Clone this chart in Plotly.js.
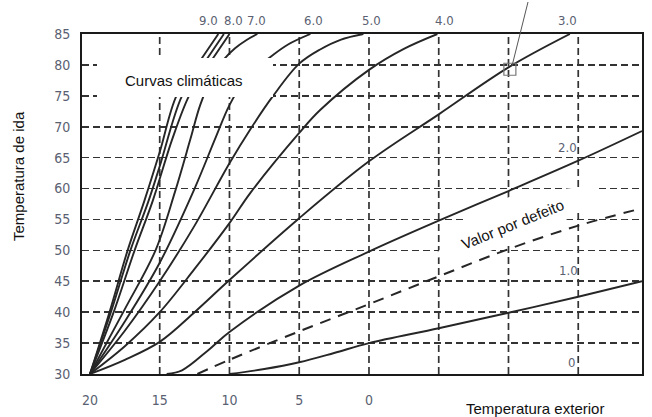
<!DOCTYPE html>
<html>
<head>
<meta charset="utf-8">
<script src="https://cdn.plot.ly/plotly-3.0.1.min.js"></script>
<style>html,body{margin:0;padding:0;background:#fff;}#chart{width:652px;height:417px;}</style>
</head>
<body>
<div id="chart"></div>
<script>
// ---- data ----
const curve90X = [20, 18.6, 17.3, 16.1, 15, 13.8, 12.6, 11.7, 10.8];
const curve90Y = [30, 40, 50, 58, 65.9, 75, 79, 82, 85];
const curve80X = [20, 18.5, 17.1, 15.8, 15, 13.4, 12.2, 11.3, 10.4];
const curve80Y = [30, 40, 50, 58, 63.6, 75, 79, 82, 85];
const curve75X = [20, 18.3, 16.8, 15.5, 14.1, 12.9, 11.8, 10.9, 10.0];
const curve75Y = [30, 40, 50, 58, 68, 75, 79, 82, 85];
const curve70X = [20, 17.5, 15.3, 13.9, 12.8, 12.1, 11.2, 10.4, 9.6, 8.8, 8];
const curve70Y = [30, 40.5, 50, 59.5, 68, 73.5, 78.3, 80.9, 82.7, 84, 85];
const curve60X = [20, 17.5, 15, 12.5, 11, 10, 9, 8, 7, 5.8, 4.2];
const curve60Y = [30, 38.5, 48, 60, 68.2, 73.5, 77.2, 79.6, 81.4, 83.3, 85];
const curve50X = [20, 17.5, 15, 12.5, 10, 8.5, 6.9, 5, 3.5, 2, 0.4];
const curve50Y = [30, 37, 45, 54, 64.1, 69.6, 74.9, 80.2, 82.5, 84.1, 85];
const curve40X = [20, 17.5, 15, 12.5, 10, 8.5, 5, 3.5, 0, -2.5, -4.9];
const curve40Y = [30, 34.5, 40, 47, 54.4, 59.3, 69, 72.7, 79.2, 82.6, 85];
const curve30X = [20, 17.5, 15, 12.5, 10, 5, 0, -5, -10, -14.4];
const curve30Y = [30, 32.3, 35.2, 40, 45.2, 55.2, 64.4, 72, 79.6, 85];
const curve20X = [14.5, 13.4, 11.5, 10, 5, 0, -5, -10, -15, -19.57];
const curve20Y = [30, 30.6, 33.9, 36.8, 44.3, 49.8, 54.8, 59.6, 64.5, 69.3];
const defaultX = [12.3, 10, 5, 0, -5, -10, -15, -19.57];
const defaultY = [30, 32.3, 36.9, 41.3, 45.8, 50.2, 54, 56.8];
const curve10X = [10, 7.5, 5, 2.5, 0, -5, -10, -15, -19.57];
const curve10Y = [30, 30.8, 31.9, 33.4, 35, 37.4, 39.9, 42.5, 45];
const markX = [-10.1];
const markY = [79.3];

const xTickVals = [20, 15, 10, 5, 0];
const xTickText = ['20', '15', '10', '5', '0'];
const xGridVals = [15, 10, 5, 0, -5, -10, -15];
const yTickVals = [30, 35, 40, 45, 50, 55, 60, 65, 70, 75, 80, 85];

const topLabels = ['9.0', '8.0', '7.0', '6.0', '5.0', '4.0', '3.0'];
const topLabelX = [11.5, 9.72, 8.05, 4.0, -0.2, -5.4, -14.2];
const sideLabels = ['2.0', '1.0', '0'];
const sideLabelX = [-14.2, -14.3, -14.55];
const sideLabelY = [66.7, 46.7, 31.9];

// ---- geometry ----
const xRange = [20.57, -19.57], yRange = [30, 85];
const M = {l: 82, r: 10, t: 34, b: 43};
const PW = 652 - M.l - M.r, PH = 417 - M.t - M.b;
function dx(px) { return xRange[0] + (px - M.l) / PW * (xRange[1] - xRange[0]); }
function dy(py) { return yRange[0] + (M.t + PH - py) / PH * (yRange[1] - yRange[0]); }
function px2paperX(px) { return (px - M.l) / PW; }
function py2paperY(py) { return (M.t + PH - py) / PH; }

const ink = '#262626';
const gridCol = '#333';
const gridDash = '7px,4px';
const numFont = {family: 'Liberation Sans Narrow, DejaVu Sans Condensed, sans-serif', size: 14, color: '#5a5f72'};
const lblFont = {family: 'Liberation Sans Narrow, DejaVu Sans Condensed, sans-serif', size: 13, color: '#5a5f72'};
const txtFont = {family: 'Liberation Sans, Arial, sans-serif', size: 15, color: '#111'};

function solid(x, y, name) {
  return {x: x, y: y, name: name, type: 'scatter', mode: 'lines', hoverinfo: 'skip',
          line: {color: ink, width: 1.9, shape: 'spline', smoothing: 1}};
}
const traces = [
  solid(curve90X, curve90Y, '9.0'),
  solid(curve80X, curve80Y, '8.0'),
  solid(curve75X, curve75Y, '7.5'),
  solid(curve70X, curve70Y, '7.0'),
  solid(curve60X, curve60Y, '6.0'),
  solid(curve50X, curve50Y, '5.0'),
  solid(curve40X, curve40Y, '4.0'),
  solid(curve30X, curve30Y, '3.0'),
  solid(curve20X, curve20Y, '2.0'),
  {x: defaultX, y: defaultY, type: 'scatter', mode: 'lines', hoverinfo: 'skip',
   line: {color: ink, width: 2, dash: '11px,8px', shape: 'spline', smoothing: 1}},
  solid(curve10X, curve10Y, '1.0'),
  {x: markX, y: markY, type: 'scatter', mode: 'markers', hoverinfo: 'skip', cliponaxis: false,
   marker: {symbol: 'square-open', size: 12, color: '#777', line: {width: 1.2, color: '#777'}}}
];

const shapes = [];
xGridVals.forEach(v => shapes.push({type: 'line', xref: 'x', yref: 'paper', x0: v, x1: v, y0: 0, y1: 1,
  layer: 'below', line: {color: gridCol, width: 1.7, dash: gridDash}}));
// white box behind "Curvas climáticas"
shapes.push({type: 'rect', xref: 'x', yref: 'y', x0: dx(97), x1: dx(273), y0: dy(97), y1: dy(58),
  layer: 'above', fillcolor: '#fff', line: {width: 0}});
// white patch behind "Valor por defeito"
const patch = [[433,258],[465,219],[509,197],[537,192],[598,185],[598,198],[563,222],[509,243],[488,252]];
shapes.push({type: 'path', xref: 'x', yref: 'y', layer: 'above', fillcolor: '#fff', line: {width: 0},
  path: 'M' + patch.map(p => dx(p[0]).toFixed(3) + ',' + dy(p[1]).toFixed(3)).join(' L') + ' Z'});
// pointer line
shapes.push({type: 'line', xref: 'paper', yref: 'paper', x0: px2paperX(528), y0: py2paperY(2),
  x1: px2paperX(512), y1: py2paperY(66), line: {color: '#555', width: 1}});

const annotations = [];
topLabels.forEach((t, i) => annotations.push({text: t, x: topLabelX[i], xref: 'x', yref: 'paper',
  y: py2paperY(21), showarrow: false, font: lblFont, xanchor: 'center', yanchor: 'middle'}));
sideLabels.forEach((t, i) => annotations.push({text: t, x: sideLabelX[i], y: sideLabelY[i], xref: 'x', yref: 'y',
  showarrow: false, font: lblFont, xanchor: 'center', yanchor: 'middle'}));
annotations.push({text: 'Curvas climáticas', x: dx(183.5), y: dy(80), xref: 'x', yref: 'y', showarrow: false,
  font: txtFont, xanchor: 'center', yanchor: 'middle'});
annotations.push({text: 'Valor por defeito', x: dx(512), y: dy(224), xref: 'x', yref: 'y', showarrow: false,
  font: txtFont, textangle: -22, xanchor: 'center', yanchor: 'middle'});
annotations.push({text: 'Temperatura exterior', x: px2paperX(535), y: py2paperY(408), xref: 'paper', yref: 'paper',
  showarrow: false, font: txtFont, xanchor: 'center', yanchor: 'middle'});
annotations.push({text: 'Temperatura de ida', x: px2paperX(18), y: py2paperY(176), xref: 'paper', yref: 'paper',
  showarrow: false, font: txtFont, textangle: -90, xanchor: 'center', yanchor: 'middle'});

const layout = {
  width: 652, height: 417, margin: M, showlegend: false,
  paper_bgcolor: '#fff', plot_bgcolor: '#fff',
  xaxis: {range: xRange, tickvals: xTickVals, ticktext: xTickText, showgrid: false, zeroline: false,
          showline: true, mirror: true, linecolor: '#1a1a1a', linewidth: 2,
          ticks: 'outside', ticklen: 12, tickcolor: 'rgba(0,0,0,0)', tickfont: numFont, fixedrange: true},
  yaxis: {range: yRange, tickvals: yTickVals, showgrid: true, gridcolor: gridCol, gridwidth: 1.7, griddash: gridDash,
          zeroline: false, showline: true, mirror: true, linecolor: '#1a1a1a', linewidth: 2,
          ticks: 'outside', ticklen: 7, tickcolor: 'rgba(0,0,0,0)', tickfont: numFont, fixedrange: true},
  shapes: shapes, annotations: annotations
};
Plotly.newPlot('chart', traces, layout, {staticPlot: true, displayModeBar: false});
</script>
</body>
</html>
